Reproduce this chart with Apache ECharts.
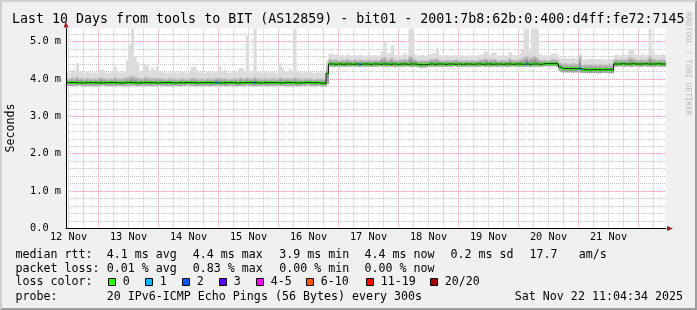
<!DOCTYPE html>
<html><head><meta charset="utf-8">
<script src="https://cdn.jsdelivr.net/npm/echarts@6/dist/echarts.min.js"></script>
<style>html,body{margin:0;padding:0;background:#f0f0f0}#c{width:697px;height:310px}</style>
</head><body><div id="c"></div>
<script>
// ---------- data ----------
const startHour = 11.0;   // first hourly bin, hours after 12 Nov 00:00
const binHours = 1;
// median rtt per hour (ms)
const median = [
3.90,3.90,3.91,3.90,3.90,3.89,3.90,3.90,3.90,3.91,
3.90,3.90,3.90,3.89,3.90,3.90,3.90,3.91,3.90,3.90,
3.90,3.89,3.90,3.90,3.91,3.90,3.90,3.90,3.89,3.90,
3.90,3.90,3.91,3.90,3.90,3.90,3.89,3.90,3.90,3.90,
3.91,3.90,3.90,3.89,3.90,3.90,3.90,3.90,3.91,3.90,
3.90,3.90,3.89,3.90,3.90,3.90,3.91,3.90,3.90,3.90,
3.90,3.89,3.90,3.90,3.90,3.91,3.90,3.90,3.89,3.90,
3.90,3.90,3.90,3.91,3.90,3.90,3.90,3.89,3.90,3.90,
3.91,3.90,3.90,3.90,3.90,3.89,3.90,3.90,3.91,3.90,
3.90,3.90,3.89,3.90,3.90,3.90,3.91,3.90,3.90,3.90,
3.90,3.89,3.89,3.88,4.15,4.40,4.40,4.39,4.40,4.40,
4.39,4.40,4.40,4.40,4.39,4.40,4.40,4.39,4.40,4.40,
4.40,4.39,4.40,4.40,4.40,4.39,4.40,4.40,4.40,4.39,
4.40,4.40,4.39,4.40,4.40,4.40,4.39,4.40,4.40,4.40,
4.39,4.38,4.38,4.38,4.39,4.40,4.40,4.39,4.40,4.40,
4.40,4.39,4.40,4.40,4.40,4.39,4.40,4.40,4.39,4.40,
4.40,4.40,4.39,4.40,4.40,4.40,4.39,4.40,4.40,4.40,
4.39,4.40,4.40,4.40,4.39,4.40,4.40,4.40,4.39,4.40,
4.40,4.40,4.39,4.40,4.40,4.39,4.40,4.40,4.40,4.39,
4.40,4.41,4.41,4.41,4.41,4.41,4.40,4.32,4.28,4.28,
4.28,4.28,4.28,4.27,4.28,4.28,4.25,4.25,4.25,4.24,
4.25,4.25,4.25,4.24,4.25,4.25,4.25,4.25,4.24,4.40,
4.40,4.40,4.41,4.40,4.40,4.40,4.41,4.40,4.40,4.40,
4.40,4.41,4.40,4.40,4.40,4.40,4.41,4.40,4.40,4.40];
// lowest ping per hour (ms)
const smokeMin = [
3.82,3.82,3.81,3.82,3.82,3.83,3.82,3.81,3.82,3.82,
3.82,3.81,3.82,3.82,3.83,3.82,3.82,3.81,3.82,3.82,
3.82,3.82,3.81,3.82,3.82,3.82,3.83,3.82,3.81,3.82,
3.82,3.82,3.82,3.81,3.82,3.82,3.82,3.83,3.82,3.82,
3.81,3.82,3.82,3.82,3.82,3.81,3.82,3.82,3.83,3.82,
3.82,3.82,3.81,3.82,3.82,3.82,3.82,3.81,3.82,3.82,
3.83,3.82,3.82,3.81,3.82,3.82,3.82,3.82,3.81,3.82,
3.82,3.82,3.83,3.82,3.82,3.81,3.82,3.82,3.82,3.82,
3.81,3.82,3.82,3.82,3.83,3.82,3.82,3.81,3.82,3.82,
3.82,3.82,3.81,3.82,3.82,3.82,3.83,3.82,3.82,3.81,
3.82,3.82,3.81,3.81,3.86,4.33,4.33,4.32,4.33,4.33,
4.33,4.32,4.33,4.33,4.34,4.33,4.33,4.32,4.33,4.33,
4.33,4.33,4.32,4.33,4.33,4.34,4.33,4.33,4.32,4.33,
4.33,4.32,4.33,4.33,4.33,4.33,4.34,4.33,4.32,4.33,
4.32,4.31,4.31,4.31,4.32,4.33,4.33,4.32,4.33,4.33,
4.33,4.33,4.32,4.33,4.33,4.34,4.33,4.33,4.32,4.33,
4.33,4.33,4.33,4.32,4.33,4.33,4.34,4.33,4.33,4.32,
4.33,4.33,4.32,4.33,4.33,4.33,4.32,4.33,4.34,4.33,
4.33,4.32,4.33,4.33,4.33,4.32,4.33,4.33,4.33,4.32,
4.33,4.34,4.34,4.34,4.34,4.34,4.33,4.22,4.17,4.18,
4.17,4.18,4.17,4.17,4.18,4.17,4.16,4.16,4.16,4.15,
4.16,4.16,4.15,4.15,4.16,4.16,4.16,4.15,4.15,4.33,
4.33,4.34,4.33,4.33,4.34,4.33,4.33,4.34,4.33,4.33,
4.33,4.34,4.33,4.33,4.33,4.33,4.34,4.33,4.33,4.33];
// top of the dense part of the smoke per hour (ms)
const smokeDense = [
4.03,4.02,4.05,4.03,4.07,4.02,4.03,4.01,4.04,4.02,
4.02,4.03,4.01,4.05,4.04,4.02,4.01,4.03,4.02,4.06,
4.03,4.02,4.02,4.04,4.06,4.08,4.10,4.06,4.05,4.03,
4.02,4.06,4.05,4.03,4.04,4.02,4.04,4.03,4.02,4.01,
4.01,4.03,4.02,4.02,4.00,4.02,4.03,4.01,4.00,4.02,
4.04,4.04,4.02,4.01,4.03,4.00,4.02,4.02,4.01,4.03,
4.04,4.05,4.02,4.03,4.01,4.00,4.02,4.03,4.01,4.04,
4.04,4.02,4.06,4.03,4.02,4.07,4.03,4.02,4.01,4.03,
4.02,4.01,4.03,4.02,4.00,4.05,4.04,4.02,4.03,4.03,
4.02,4.06,4.03,4.02,4.01,4.02,4.02,4.03,4.01,4.00,
4.02,4.01,4.02,4.01,4.38,4.54,4.52,4.53,4.52,4.50,
4.52,4.51,4.54,4.52,4.50,4.53,4.51,4.52,4.52,4.50,
4.51,4.53,4.50,4.52,4.51,4.52,4.58,4.60,4.53,4.55,
4.58,4.52,4.51,4.52,4.53,4.55,4.52,4.62,4.60,4.53,
4.51,4.50,4.52,4.50,4.51,4.53,4.54,4.54,4.56,4.52,
4.50,4.51,4.52,4.50,4.51,4.52,4.53,4.50,4.51,4.50,
4.51,4.50,4.52,4.51,4.50,4.53,4.53,4.56,4.55,4.52,
4.54,4.54,4.51,4.50,4.52,4.51,4.50,4.56,4.53,4.51,
4.52,4.53,4.56,4.60,4.62,4.56,4.60,4.62,4.58,4.53,
4.51,4.52,4.50,4.51,4.54,4.54,4.52,4.45,4.42,4.43,
4.42,4.41,4.43,4.42,4.41,4.62,4.39,4.40,4.39,4.41,
4.39,4.40,4.39,4.41,4.39,4.40,4.39,4.41,4.40,4.53,
4.54,4.52,4.55,4.53,4.54,4.60,4.58,4.54,4.52,4.53,
4.54,4.52,4.53,4.62,4.56,4.54,4.52,4.53,4.54,4.52];
// highest ping per hour (ms)
const smokeMax = [
4.18,4.16,4.24,4.18,4.42,4.20,4.18,4.17,4.20,4.16,
4.17,4.18,4.16,4.24,4.24,4.18,4.16,4.17,4.19,4.33,
4.20,4.17,4.18,4.22,4.50,4.90,5.35,4.60,4.45,4.22,
4.20,4.37,4.37,4.22,4.30,4.22,4.33,4.20,4.18,4.17,
4.16,4.18,4.17,4.20,4.16,4.18,4.19,4.17,4.16,4.20,
4.33,4.33,4.20,4.17,4.18,4.16,4.20,4.18,4.17,4.19,
4.18,4.33,4.20,4.24,4.17,4.16,4.18,4.20,4.17,4.29,
4.29,4.20,5.17,4.22,4.18,5.35,4.20,4.18,4.17,4.20,
4.18,4.17,4.20,4.18,4.16,4.42,4.30,4.18,4.20,4.26,
4.20,5.35,4.22,4.18,4.17,4.19,4.18,4.20,4.17,4.16,
4.18,4.17,4.20,4.18,4.50,4.68,4.66,4.64,4.66,4.62,
4.64,4.62,4.66,4.63,4.62,4.65,4.62,4.64,4.63,4.62,
4.63,4.65,4.62,4.64,4.62,4.63,4.75,5.00,4.66,4.70,
4.90,4.64,4.62,4.63,4.65,4.70,4.64,5.35,5.35,4.66,
4.63,4.62,4.64,4.62,4.63,4.65,4.68,4.68,4.82,4.64,
4.62,4.63,4.64,4.62,4.63,4.64,4.64,4.62,4.63,4.62,
4.63,4.62,4.64,4.63,4.62,4.65,4.66,4.73,4.73,4.64,
4.70,4.70,4.63,4.62,4.64,4.63,4.62,4.73,4.65,4.63,
4.64,4.66,4.80,5.35,5.35,4.75,5.35,5.35,5.35,4.66,
4.63,4.64,4.62,4.63,4.68,4.68,4.64,4.56,4.55,4.56,
4.55,4.54,4.56,4.55,4.54,4.66,4.52,4.53,4.52,4.54,
4.52,4.53,4.52,4.54,4.52,4.53,4.52,4.54,4.53,4.64,
4.65,4.63,4.66,4.64,4.65,4.79,4.77,4.66,4.64,4.65,
4.66,4.64,4.65,5.35,4.75,4.66,4.64,4.65,4.66,4.64];
// lost pings (of 20) per hour
const lostPings = [
0,0,0,0,0,0,0,0,0,0, 0,0,0,0,0,0,0,0,0,0, 0,0,0,0,0,0,0,0,0,0, 0,0,0,0,0,0,0,0,0,0,
0,0,0,0,0,0,0,0,0,0, 0,0,0,0,0,0,0,0,0,0, 1,0,0,0,0,0,0,0,0,0, 0,0,0,0,0,1,0,0,0,0,
0,0,0,0,0,0,0,0,0,0, 0,0,0,0,0,0,0,0,0,0, 0,0,0,0,0,0,0,0,0,0, 0,0,0,0,0,0,0,1,0,0,
0,0,0,0,0,0,0,0,0,0, 0,0,0,0,0,0,0,0,0,0, 0,0,0,0,0,0,0,0,0,0, 0,0,0,0,0,0,0,0,0,0,
0,0,0,0,0,0,0,0,0,0, 0,0,0,0,0,0,0,0,0,0, 0,0,0,0,1,0,0,0,0,0, 0,0,0,0,0,0,0,0,0,0,
0,0,0,0,0,1,0,0,0,0, 0,0,0,0,0,0,0,0,0,0, 0,0,0,0,0,0,0,0,0,0, 0,0,0,0,0,0,0,0,0,0];

const lossNames  = ['0','1','2','3','4-5','6-10','11-19','20/20'];
const lossUpper  = [0,1,2,3,5,10,19,20];
const lossColors = ['#26ff00','#00b8ff','#0059ff','#5e00ff','#ff00ff','#ff5500','#ff0000','#a10000'];

const xMinHour = 11.0, xMaxHour = 251.0;
const xLabelHours = [12,36,60,84,108,132,156,180,204,228];
const xLabelNames = ['12 Nov','13 Nov','14 Nov','15 Nov','16 Nov','17 Nov','18 Nov','19 Nov','20 Nov','21 Nov'];
const xMajorHours = [24,48,72,96,120,144,168,192,216,240];
const xMinorHours = [12,18,30,36,42,54,60,66,78,84,90,102,108,114,126,132,138,150,156,162,174,180,186,198,204,210,222,228,234,246];
const yMax = 5.35;
const yLabelValues = [0,1,2,3,4,5];
const yMajorValues = [1,2,3,4,5];
const yMinorValues = [0.2,0.4,0.6,0.8,1.2,1.4,1.6,1.8,2.2,2.4,2.6,2.8,3.2,3.4,3.6,3.8,4.2,4.4,4.6,4.8,5.2];

const titleText = 'Last 10 Days from tools to BIT (AS12859) - bit01 - 2001:7b8:62b:0:400:d4ff:fe72:7145';
const rttStats  = ['median rtt:','4.1 ms avg','4.4 ms max','3.9 ms min','4.4 ms now','0.2 ms sd','17.7','am/s'];
const lossStats = ['packet loss:','0.01 % avg','0.83 % max','0.00 % min','0.00 % now'];
const probeText = ['probe:','20 IPv6-ICMP Echo Pings (56 Bytes) every 300s'];
const dateText  = 'Sat Nov 22 11:04:34 2025';

// ---------- chart ----------
const MONO = 'DejaVu Sans Mono';
const chart = echarts.init(document.getElementById('c'), null, {renderer: 'canvas'});

const smokeData  = median.map((m, i) => [startHour + i * binHours, smokeMin[i], smokeDense[i], smokeMax[i]]);
const medianData = median.map((m, i) => [startHour + i * binHours, m, lostPings[i]]);
const medianLine = median.map((m, i) => [startHour + i * binHours, m])
  .concat([[startHour + median.length * binHours, median[median.length - 1]]]);

function lossClass(n) { for (let k = 0; k < lossUpper.length; k++) if (n <= lossUpper[k]) return k; return lossUpper.length - 1; }

const denseFill = new echarts.graphic.LinearGradient(0, 0, 0, 1, [
  {offset: 0, color: '#cbcbcb'}, {offset: 0.55, color: '#8d8d8d'}, {offset: 1, color: '#a9a9a9'}]);

function renderSmoke(params, api) {
  const t = api.value(0);
  const top = api.coord([t, api.value(3)]);
  const bot = api.coord([t + binHours, api.value(1)]);
  const mid = api.coord([t, api.value(2)]);
  const w = bot[0] - top[0] + 0.6;
  return {type: 'group', children: [
    {type: 'rect', shape: {x: top[0], y: top[1], width: w, height: bot[1] - top[1]}, style: {fill: '#dcdcdc'}},
    {type: 'rect', shape: {x: top[0], y: mid[1], width: w, height: bot[1] - mid[1]}, style: {fill: denseFill}}
  ]};
}
function renderMedian(params, api) {
  const t = api.value(0);
  const a = api.coord([t, api.value(1)]);
  const b = api.coord([t + binHours, api.value(1)]);
  return {type: 'rect', shape: {x: a[0], y: a[1] - 1.3, width: b[0] - a[0] + 0.4, height: 2.6},
          style: {fill: lossColors[lossClass(api.value(2))]}};
}

const gridLeft = 66, gridTop = 28.5, gridW = 600, gridH = 200;
const ARROW = '#9a1c1c';
const dotted = [1, 1];
function baseX(extra) {
  return Object.assign({type: 'value', min: xMinHour, max: xMaxHour, position: 'bottom',
    axisLine: {show: false}, axisTick: {show: false}, axisLabel: {show: false}, splitLine: {show: false}}, extra);
}
function baseY(extra) {
  return Object.assign({type: 'value', min: 0, max: yMax, position: 'left',
    axisLine: {show: false}, axisTick: {show: false}, axisLabel: {show: false}, splitLine: {show: false}}, extra);
}

const graphics = [
  {type: 'polygon', shape: {points: [[0,0],[697,0],[695,2],[2,2],[2,308],[0,310]]}, style: {fill: '#cfcfcf'}, silent: true},
  {type: 'polygon', shape: {points: [[697,0],[697,310],[0,310],[2,308],[695,308],[695,2]]}, style: {fill: '#9e9e9e'}, silent: true},
  {type: 'text', x: 12, y: 20, style: {text: titleText, font: '13.3px "' + MONO + '"', fill: '#000', textVerticalAlign: 'middle'}, z: 20},
  {type: 'text', x: 11, y: 128, rotation: Math.PI / 2, style: {text: 'Seconds', font: '11.65px "' + MONO + '"', fill: '#000', textAlign: 'center', textVerticalAlign: 'middle'}},
  {type: 'text', x: 688.5, y: 64, rotation: -Math.PI / 2, style: {text: 'RRDTOOL / TOBI OETIKER', font: '7.8px "' + MONO + '"', fill: '#b8b8b8', textAlign: 'center', textVerticalAlign: 'middle'}}
];
const statX = [15.5, 106.7, 192.7, 279.2, 364.5, 450.5, 529.5, 578.8];
const rowY = [254.5, 268.5, 282.3, 296.5];
const legendFont = '11.65px "' + MONO + '"';
rttStats.forEach((s, i) => graphics.push({type: 'text', x: statX[i], y: rowY[0], style: {text: s, font: legendFont, fill: '#000', textVerticalAlign: 'middle'}}));
lossStats.forEach((s, i) => graphics.push({type: 'text', x: statX[i], y: rowY[1], style: {text: s, font: legendFont, fill: '#000', textVerticalAlign: 'middle'}}));
graphics.push({type: 'text', x: statX[0], y: rowY[2], style: {text: 'loss color:', font: legendFont, fill: '#000', textVerticalAlign: 'middle'}});
const boxX = [108.5, 145.5, 182.5, 219.5, 256.5, 306.5, 366.5, 430.5];
lossNames.forEach((n, i) => {
  graphics.push({type: 'rect', shape: {x: boxX[i], y: 278.5, width: 7, height: 7}, style: {fill: lossColors[i], stroke: '#000', lineWidth: 1}});
  graphics.push({type: 'text', x: boxX[i] + 14.3, y: rowY[2], style: {text: n, font: legendFont, fill: '#000', textVerticalAlign: 'middle'}});
});
graphics.push({type: 'text', x: statX[0], y: rowY[3], style: {text: probeText[0], font: legendFont, fill: '#000', textVerticalAlign: 'middle'}});
graphics.push({type: 'text', x: statX[1], y: rowY[3], style: {text: probeText[1], font: legendFont, fill: '#000', textVerticalAlign: 'middle'}});
graphics.push({type: 'text', x: 683, y: rowY[3], style: {text: dateText, font: legendFont, fill: '#000', textAlign: 'right', textVerticalAlign: 'middle'}});

chart.setOption({
  animation: false,
  backgroundColor: '#f0f0f0',
  grid: {left: gridLeft, top: gridTop, width: gridW, height: gridH, show: true, backgroundColor: '#ffffff', borderWidth: 0},
  xAxis: [
    baseX({axisTick: {show: false, customValues: xMinorHours}, splitLine: {show: true, lineStyle: {color: '#c4c4c4', width: 1, type: dotted}}}),
    baseX({axisTick: {show: false, customValues: xMajorHours}, splitLine: {show: true, lineStyle: {color: '#ee9c9c', width: 1, type: dotted}}}),
    baseX({z: 5, axisLine: {show: true, lineStyle: {color: '#000', width: 1}},
      axisLabel: {show: true, customValues: xLabelHours, margin: 4, color: '#000', fontFamily: MONO, fontSize: 10.3,
        formatter: v => xLabelNames[xLabelHours.indexOf(Math.round(v))] || ''}}),
    baseX({z: 6, axisLine: {show: true, symbol: ['none', 'triangle'], symbolSize: [5, 6], symbolOffset: [0, 4], lineStyle: {color: ARROW, width: 0}}})
  ],
  yAxis: [
    baseY({axisTick: {show: false, customValues: yMinorValues}, splitLine: {show: true, lineStyle: {color: '#c4c4c4', width: 1, type: dotted}}}),
    baseY({axisTick: {show: false, customValues: yMajorValues}, splitLine: {show: true, lineStyle: {color: '#ee9c9c', width: 1, type: dotted}}}),
    baseY({z: 5, axisLine: {show: true, lineStyle: {color: '#000', width: 1}},
      axisLabel: {show: true, customValues: yLabelValues, margin: 36, align: 'left', color: '#000', fontFamily: MONO, fontSize: 10.3,
        formatter: v => v === 0 ? '0.0' : v.toFixed(1) + ' m'}}),
    baseY({z: 6, axisLine: {show: true, symbol: ['none', 'triangle'], symbolSize: [5, 6], symbolOffset: [0, 4], lineStyle: {color: ARROW, width: 0}}})
  ],
  series: [
    {type: 'custom', name: 'smoke', data: smokeData, renderItem: renderSmoke, encode: {x: 0, y: [1, 3]}, clip: true, silent: true},
    {type: 'line', name: 'median', data: medianLine, step: 'end', symbol: 'none', lineStyle: {color: '#202020', width: 1}, clip: true, silent: true},
    {type: 'custom', name: 'median loss', data: medianData, renderItem: renderMedian, encode: {x: 0, y: 1}, clip: true, silent: true}
  ],
  graphic: {elements: graphics}
});
</script></body></html>
